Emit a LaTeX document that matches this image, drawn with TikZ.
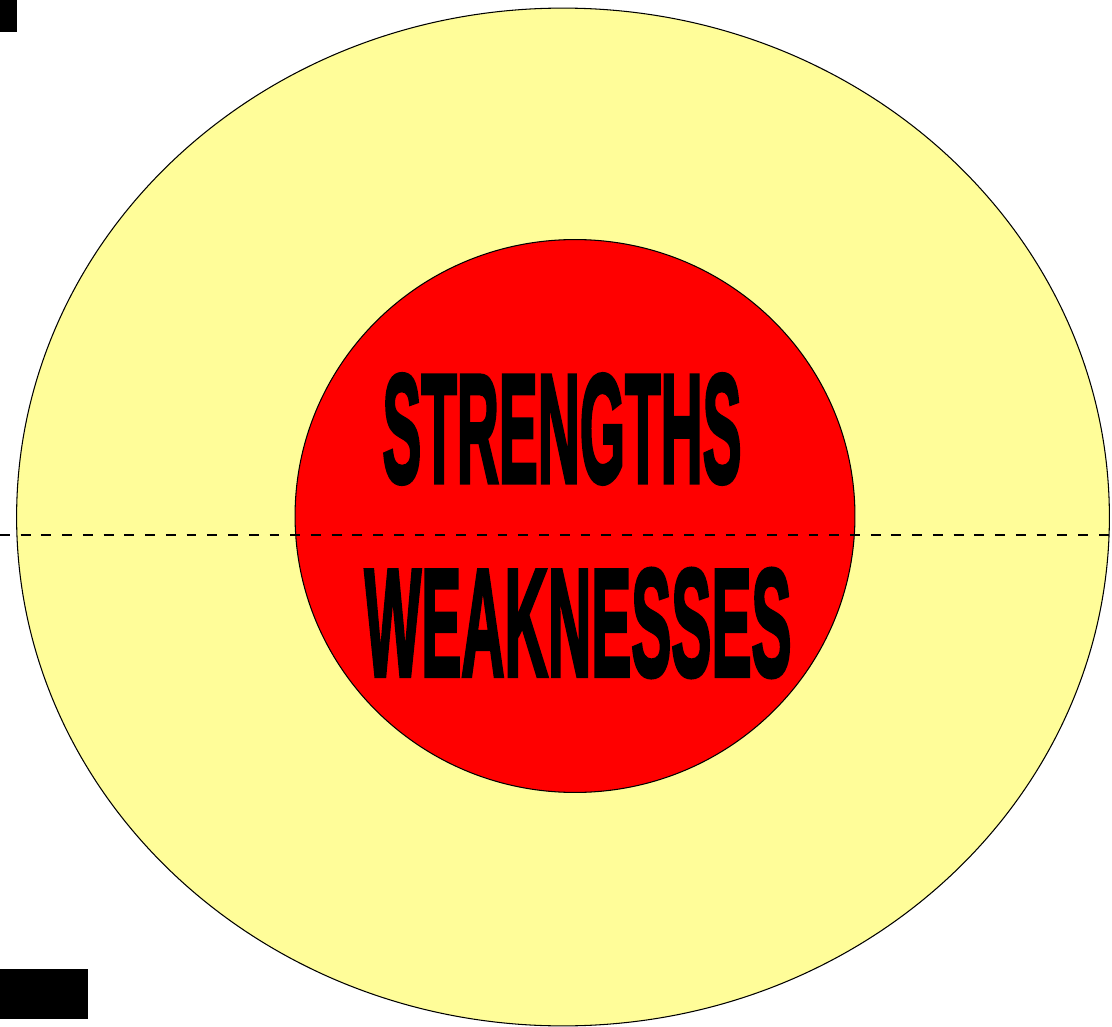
\documentclass[tikz,border=0pt]{standalone}
\usepackage{fontspec}
\usepackage{graphicx}
\setmainfont{Liberation Sans}
\newfontfamily\heavyfont[FakeBold=3]{Liberation Sans Bold}
\usetikzlibrary{shapes.geometric, positioning}
\definecolor{paleyellow}{RGB}{255,253,153}

\begin{document}
\begin{tikzpicture}[
  x=0.02cm, y=-0.02cm,
  ring/.style={ellipse, draw=black, line width=0.6pt, inner sep=0pt},
  word/.style={inner sep=0pt, text=black},
  divider/.style={dashed, dash pattern=on 5.6pt off 6.2pt, line width=1.1pt, black},
  blackmark/.style={fill=black, draw=none}
]
  \useasboundingbox (0,0) rectangle (1112,1027);

  \node[ring, fill=paleyellow, minimum width=21.86cm, minimum height=20.36cm] (outer) at (563,517) {};
  \node[ring, fill=red, minimum width=11.2cm, minimum height=11.06cm] (inner) at (575,516) {};

  \node[word] (str) at (562,429) {\resizebox{7.18cm}{2.16cm}{\heavyfont STRENGTHS}};
  \node[word] (weak) at (578,623) {\resizebox{8.54cm}{2.14cm}{\heavyfont WEAKNESSES}};

  \coordinate (lineW) at (0,535);
  \coordinate (lineE) at (1112,535);
  \draw[divider] (lineW) -- (lineE);

  \fill[blackmark] (0,0) rectangle (17,32);
  \fill[blackmark] (0,969) rectangle (88,1019);
\end{tikzpicture}
\end{document}
